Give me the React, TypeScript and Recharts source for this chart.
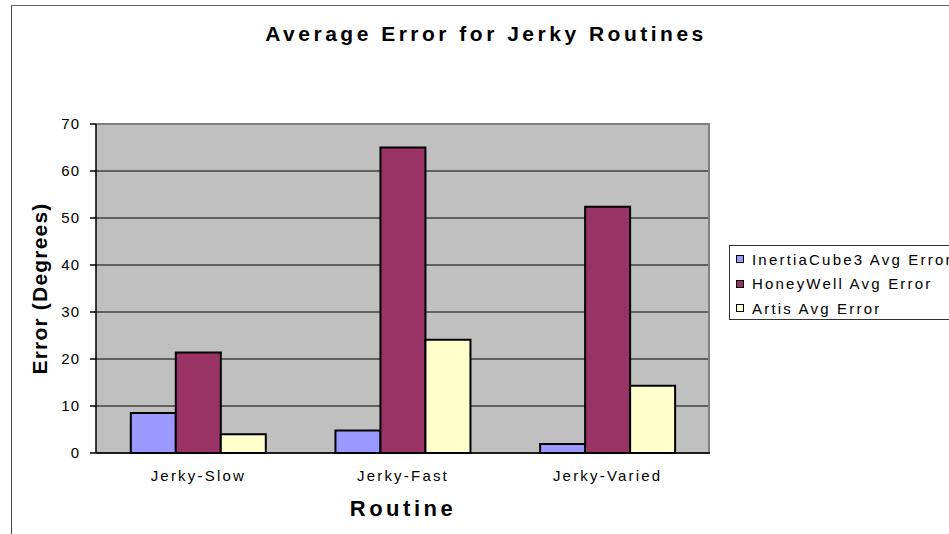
import React from 'react';
import * as R from 'recharts';
import { BarChart, Bar, XAxis, YAxis, CartesianGrid, Legend, ReferenceLine } from 'recharts';

const categories = ['Jerky-Slow', 'Jerky-Fast', 'Jerky-Varied'];
const inertiaCube3 = [8.5, 4.8, 1.9];
const honeyWell = [21.4, 65.0, 52.4];
const artis = [4.0, 24.1, 14.3];
const yTicks = [0, 10, 20, 30, 40, 50, 60, 70];

const seriesDefs = [
  { key: 'inertia', name: 'InertiaCube3 Avg Error', color: '#9999FF', values: inertiaCube3 },
  { key: 'honeywell', name: 'HoneyWell Avg Error', color: '#993366', values: honeyWell },
  { key: 'artis', name: 'Artis Avg Error', color: '#FFFFCC', values: artis },
];

const data = categories.map((c, i) => {
  const row: any = { name: c, idx: i + 0.5 };
  seriesDefs.forEach((s) => (row[s.key] = s.values[i]));
  return row;
});

const FONT = 'Arial, "Liberation Sans", sans-serif';

const renderLegend = () => (
  <div
    style={{
      border: '1px solid #333',
      background: '#fff',
      width: 240,
      height: 75,
      boxSizing: 'border-box',
      padding: '1px 0 0 6px',
      fontFamily: FONT,
      fontSize: 15,
      letterSpacing: 2.2,
      color: '#000',
    }}
  >
    {seriesDefs.map((s) => (
      <div key={s.key} style={{ display: 'flex', alignItems: 'center', height: 24.5, whiteSpace: 'nowrap' }}>
        <span
          style={{
            display: 'inline-block',
            width: 8,
            height: 8,
            border: '1.5px solid #000',
            background: s.color,
            marginRight: 8,
            boxSizing: 'border-box',
          }}
        />
        <span>{s.name}</span>
      </div>
    ))}
  </div>
);

const usePlotAreaHook: any = (R as any).usePlotArea;

const PlotBorder = () => {
  const area = usePlotAreaHook ? usePlotAreaHook() : null;
  if (!area) return null;
  return (
    <line
      x1={area.x + area.width - 1}
      x2={area.x + area.width - 1}
      y1={area.y}
      y2={area.y + area.height}
      stroke="#808080"
      strokeWidth={2}
    />
  );
};

const YLabel = (props: any) => {
  const vb = props.viewBox || {};
  const cx = (vb.x || 0) + 4;
  const cy = (vb.y || 0) + (vb.height || 0) / 2;
  return (
    <text
      x={cx}
      y={cy}
      transform={`rotate(-90 ${cx} ${cy})`}
      textAnchor="middle"
      dominantBaseline="central"
      style={{ fontFamily: FONT, fontSize: 21, fontWeight: 'bold', letterSpacing: 1.2 }}
      fill="#000"
    >
      Error (Degrees)
    </text>
  );
};

export default function App() {
  return (
    <div style={{ position: 'absolute', left: 0, top: 0, width: 949, height: 534, overflow: 'hidden', background: '#fff' }}>
      <div
        style={{
          position: 'absolute',
          left: 11,
          top: 5,
          width: 1000,
          height: 600,
          borderLeft: '1px solid #444',
          borderTop: '1px solid #666',
        }}
      />
      <div
        style={{
          position: 'absolute',
          left: 0,
          width: 972,
          top: 22,
          textAlign: 'center',
          fontFamily: FONT,
          fontSize: 21,
          fontWeight: 'bold',
          letterSpacing: 3.5,
          color: '#000',
        }}
      >
        Average Error for Jerky Routines
      </div>
      <div
        style={{
          position: 'absolute',
          left: 0,
          width: 806,
          top: 496,
          textAlign: 'center',
          fontFamily: FONT,
          fontSize: 22,
          fontWeight: 'bold',
          letterSpacing: 3.5,
          color: '#000',
        }}
      >
        Routine
      </div>
      <div style={{ position: 'absolute', left: 0, top: 0 }}>
        <BarChart
          width={949}
          height={534}
          data={data}
          margin={{ top: 124, right: 239, bottom: 81, left: 36 }}
          barCategoryGap="17%"
          barGap={0}
        >
          <CartesianGrid vertical={false} fill="#C0C0C0" stroke="#000" strokeWidth={1.2} fillOpacity={1} />
          <ReferenceLine y={70} stroke="#808080" strokeWidth={2} />
          <XAxis
            dataKey="name"
            tickLine={false}
            axisLine={{ stroke: '#000', strokeWidth: 1.5 }}
            tickSize={6}
            tickMargin={11}
            tick={{ fill: '#000', fontSize: 15, fontFamily: FONT, letterSpacing: 2.2 }}
            height={0.0001}
          />
          <XAxis
            xAxisId="bounds"
            type="number"
            dataKey="idx"
            domain={[0, 3]}
            ticks={[0, 1, 2, 3]}
            tick={false}
            axisLine={false}
            tickLine={{ stroke: '#000', strokeWidth: 1.5 }}
            tickSize={6}
            height={0.0001}
          />
          <YAxis
            width={60}
            domain={[0, 70]}
            ticks={yTicks}
            interval={0}
            axisLine={{ stroke: '#000', strokeWidth: 1.5 }}
            tickLine={{ stroke: '#000', strokeWidth: 1.5 }}
            tickSize={6}
            tickMargin={10}
            tick={{ fill: '#000', fontSize: 15, fontFamily: FONT, letterSpacing: 1 }}
            label={<YLabel />}
          />
          <Legend
            layout="vertical"
            align="center"
            verticalAlign="middle"
            content={renderLegend}
            wrapperStyle={{ left: 729, top: 245, width: 240, height: 75, position: 'absolute' }}
          />
          {seriesDefs.map((s) => (
            <Bar
              key={s.key}
              dataKey={s.key}
              name={s.name}
              fill={s.color}
              stroke="#000"
              strokeWidth={2}
              isAnimationActive={false}
            />
          ))}
          <PlotBorder />
        </BarChart>
      </div>
    </div>
  );
}
